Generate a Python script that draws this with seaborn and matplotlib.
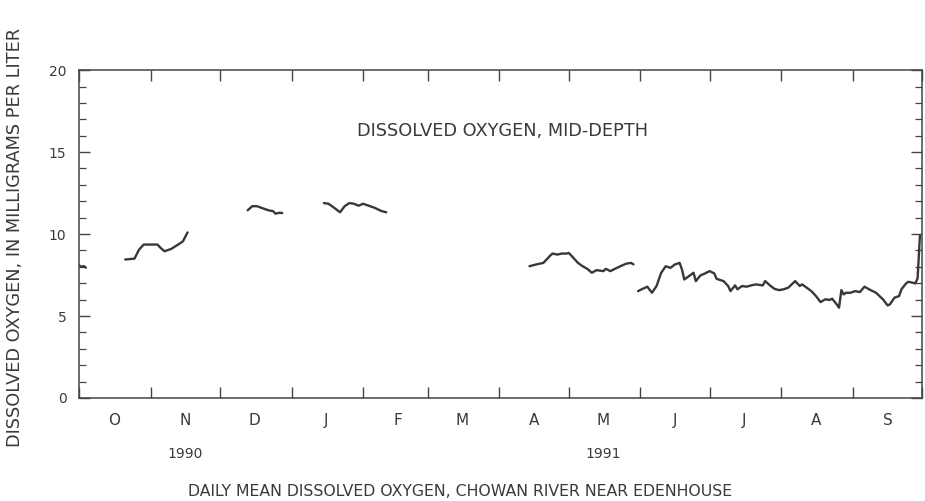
import pandas as pd
import numpy as np
import seaborn as sns
import matplotlib
matplotlib.use("Agg")
import matplotlib.pyplot as plt
import matplotlib.dates as mdates
from matplotlib.ticker import MultipleLocator, FuncFormatter, NullFormatter
import matplotlib.transforms as mtransforms

# daily mean dissolved oxygen (mg/L), one list per unbroken record
seg1_dates = ["1990-10-01", "1990-10-02", "1990-10-03", "1990-10-04"]
seg1_do = [8.1, 8.0, 8.05, 7.95]

seg2_dates = ["1990-10-21", "1990-10-25", "1990-10-27", "1990-10-29", "1990-11-04", "1990-11-05",
              "1990-11-07", "1990-11-10", "1990-11-14", "1990-11-15", "1990-11-17"]
seg2_do = [8.45, 8.5, 9.05, 9.36, 9.36, 9.2, 8.95, 9.1, 9.46, 9.56, 10.1]

seg3_dates = ["1990-12-13", "1990-12-15", "1990-12-17", "1990-12-20", "1990-12-22", "1990-12-24",
              "1990-12-25", "1990-12-27", "1990-12-28"]
seg3_do = [11.45, 11.7, 11.7, 11.55, 11.45, 11.4, 11.25, 11.3, 11.28]

seg4_dates = ["1991-01-15", "1991-01-17", "1991-01-19", "1991-01-22", "1991-01-24", "1991-01-26",
              "1991-01-28", "1991-01-30", "1991-02-01", "1991-02-04", "1991-02-06", "1991-02-09",
              "1991-02-11"]
seg4_do = [11.89, 11.85, 11.65, 11.33, 11.7, 11.89, 11.85, 11.73, 11.85, 11.7, 11.6, 11.4, 11.33]

seg5_dates = ["1991-04-14", "1991-04-17", "1991-04-20", "1991-04-23", "1991-04-24", "1991-04-26",
              "1991-04-28", "1991-04-30", "1991-05-01", "1991-05-03", "1991-05-05", "1991-05-07",
              "1991-05-09", "1991-05-11", "1991-05-13", "1991-05-16", "1991-05-17", "1991-05-19",
              "1991-05-21", "1991-05-24", "1991-05-26", "1991-05-28", "1991-05-29"]
seg5_do = [8.04, 8.15, 8.24, 8.69, 8.81, 8.75, 8.81, 8.81, 8.85, 8.55, 8.24, 8.04,
           7.88, 7.64, 7.8, 7.74, 7.88, 7.74, 7.88, 8.08, 8.2, 8.24, 8.15]

seg6_dates = ["1991-05-31", "1991-06-02", "1991-06-04", "1991-06-06", "1991-06-08", "1991-06-10",
              "1991-06-12", "1991-06-14", "1991-06-16", "1991-06-18", "1991-06-19", "1991-06-20",
              "1991-06-22", "1991-06-24", "1991-06-25", "1991-06-27", "1991-06-29", "1991-07-01",
              "1991-07-03", "1991-07-04", "1991-07-07", "1991-07-09", "1991-07-10", "1991-07-12",
              "1991-07-13", "1991-07-15", "1991-07-17", "1991-07-19", "1991-07-21", "1991-07-24",
              "1991-07-25", "1991-07-27", "1991-07-29", "1991-07-31", "1991-08-02", "1991-08-04",
              "1991-08-07", "1991-08-09", "1991-08-10", "1991-08-12", "1991-08-14", "1991-08-16",
              "1991-08-18", "1991-08-20", "1991-08-22", "1991-08-23", "1991-08-25", "1991-08-26",
              "1991-08-27", "1991-08-28", "1991-08-29", "1991-08-31", "1991-09-02", "1991-09-04",
              "1991-09-06", "1991-09-08", "1991-09-11", "1991-09-14", "1991-09-16", "1991-09-17",
              "1991-09-19", "1991-09-21", "1991-09-22", "1991-09-24", "1991-09-25", "1991-09-27",
              "1991-09-28", "1991-09-29", "1991-09-30"]
seg6_do = [6.52, 6.66, 6.79, 6.42, 6.83, 7.64,
           8.04, 7.94, 8.15, 8.24, 7.84, 7.23,
           7.43, 7.64, 7.13, 7.48, 7.6, 7.74,
           7.6, 7.27, 7.13, 6.83, 6.52, 6.87,
           6.63, 6.83, 6.79, 6.87, 6.93, 6.87,
           7.13, 6.88, 6.66, 6.58, 6.63, 6.73,
           7.13, 6.83, 6.93, 6.73, 6.52, 6.22,
           5.85, 6.02, 5.98, 6.06, 5.71, 5.51,
           6.58, 6.32, 6.42, 6.42, 6.52, 6.46,
           6.79, 6.63, 6.42, 6.02, 5.65, 5.71,
           6.12, 6.22, 6.63, 6.99, 7.09, 7.03,
           6.99, 7.3, 9.9]

month_letters = ["J", "F", "M", "A", "M", "J", "J", "A", "S", "O", "N", "D"]
year_labels = {"1990": "1990-11-16", "1991": "1991-05-16"}

segs = [(seg1_dates, seg1_do), (seg2_dates, seg2_do), (seg3_dates, seg3_do),
        (seg4_dates, seg4_do), (seg5_dates, seg5_do), (seg6_dates, seg6_do)]
frames = []
for i, (d, v) in enumerate(segs):
    frames.append(pd.DataFrame({"date": pd.to_datetime(d), "do": v, "seg": i}))
df = pd.concat(frames, ignore_index=True)

sns.set_style("ticks")
plt.rcParams["font.family"] = ["DejaVu Sans"]

fig = plt.figure(figsize=(9.25, 5.01), dpi=100)
ax = fig.add_axes([0.0854, 0.2056, 0.9116, 0.6544])

sns.lineplot(data=df, x="date", y="do", units="seg", estimator=None,
             color="#383838", linewidth=1.7, ax=ax, legend=False)

ax.set_xlim(pd.Timestamp("1990-10-01"), pd.Timestamp("1991-10-01"))
ax.set_ylim(0, 20)

ax.xaxis.set_major_locator(mdates.MonthLocator())
ax.xaxis.set_major_formatter(NullFormatter())
ax.xaxis.set_minor_locator(mdates.MonthLocator(bymonthday=16))
ax.xaxis.set_minor_formatter(FuncFormatter(lambda x, p: month_letters[mdates.num2date(x).month - 1]))
ax.tick_params(axis="x", which="major", direction="in", length=8, width=1, top=True, bottom=True, color="#444444")
ax.tick_params(axis="x", which="minor", length=0, pad=11, labelsize=11, labelcolor="#3a3a3a")

ax.set_yticks([0, 5, 10, 15, 20])
ax.yaxis.set_minor_locator(MultipleLocator(1))
ax.tick_params(axis="y", which="major", direction="in", length=8, width=1, left=True, right=True,
               labelsize=10, pad=9, color="#444444", labelcolor="#3a3a3a")
ax.tick_params(axis="y", which="minor", direction="in", length=5, width=0.9, left=True, right=True, color="#444444")

for s in ax.spines.values():
    s.set_color("#444444")
    s.set_linewidth(1.1)

ax.set_xlabel("")
ax.set_ylabel("")

trans = mtransforms.blended_transform_factory(ax.transData, ax.transAxes)
for yr, d in year_labels.items():
    ax.text(mdates.date2num(pd.Timestamp(d)), -0.17, yr, transform=trans,
            ha="center", va="center", fontsize=10, color="#3a3a3a")

ax.text(0.502, 0.815, "DISSOLVED OXYGEN, MID-DEPTH", transform=ax.transAxes,
        ha="center", va="center", fontsize=12.8, color="#3a3a3a")

fig.text(0.016, 0.527, "DISSOLVED OXYGEN, IN MILLIGRAMS PER LITER", rotation=90,
         ha="center", va="center", fontsize=12.8, color="#3a3a3a")
fig.text(0.497, 0.018, "DAILY MEAN DISSOLVED OXYGEN, CHOWAN RIVER NEAR EDENHOUSE",
         ha="center", va="center", fontsize=11.3, color="#3a3a3a")

fig.savefig("out.png", dpi=100)
